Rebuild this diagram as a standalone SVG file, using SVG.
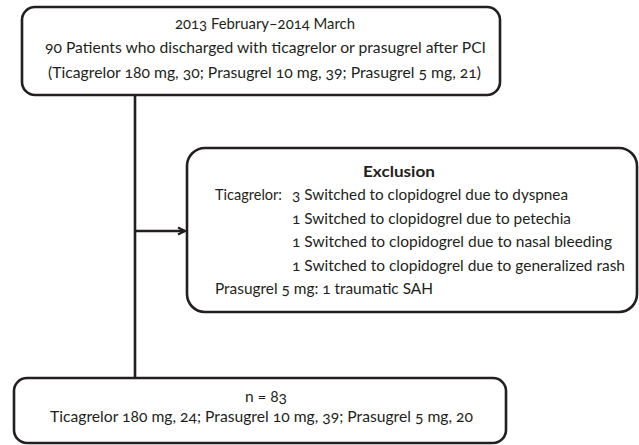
<svg xmlns="http://www.w3.org/2000/svg" width="639" height="445" viewBox="0 0 639 445">
<style>
.box{fill:#fff;stroke:#231f20;stroke-width:2.6}
.t{font-family:Lato,"Open Sans",sans-serif;font-size:16px;fill:#231f20;font-variant-numeric:oldstyle-nums}
.b{font-weight:bold}
.ln{stroke:#231f20;stroke-width:2.6;fill:none}
</style>
<defs>
<marker id="ah" viewBox="0 0 10 10" refX="9" refY="5" markerWidth="10" markerHeight="10" markerUnits="userSpaceOnUse" orient="auto">
<path d="M2,1.5 L9,5 L2,8.5" fill="none" stroke="#231f20" stroke-width="2.2"/>
</marker>
</defs>
<g id="connectors">
<line class="ln" x1="135" y1="95" x2="135" y2="378"/>
<line class="ln" x1="135" y1="231" x2="185" y2="231" marker-end="url(#ah)"/>
</g>
<g id="start">
<rect class="box" x="22" y="7" width="478" height="88" rx="13"/>
<text class="t" x="175" y="29" textLength="180" lengthAdjust="spacingAndGlyphs">2013 February–2014 March</text>
<text class="t" x="45" y="53" textLength="441" lengthAdjust="spacingAndGlyphs">90 Patients who discharged with ticagrelor or prasugrel after PCI</text>
<text class="t" x="48" y="78" textLength="433" lengthAdjust="spacingAndGlyphs">(Ticagrelor 180 mg, 30; Prasugrel 10 mg, 39; Prasugrel 5 mg, 21)</text>
</g>
<g id="exclusion">
<rect class="box" x="187" y="148" width="450" height="164" rx="18"/>
<text class="t b" x="363" y="177" textLength="72" lengthAdjust="spacingAndGlyphs">Exclusion</text>
<text class="t" x="215" y="200" textLength="67" lengthAdjust="spacingAndGlyphs">Ticagrelor:</text>
<text class="t" x="292" y="200" textLength="276" lengthAdjust="spacingAndGlyphs">3 Switched to clopidogrel due to dyspnea</text>
<text class="t" x="292" y="223.5" textLength="279" lengthAdjust="spacingAndGlyphs">1 Switched to clopidogrel due to petechia</text>
<text class="t" x="292" y="247" textLength="320" lengthAdjust="spacingAndGlyphs">1 Switched to clopidogrel due to nasal bleeding</text>
<text class="t" x="292" y="270.5" textLength="333" lengthAdjust="spacingAndGlyphs">1 Switched to clopidogrel due to generalized rash</text>
<text class="t" x="215" y="294" textLength="218" lengthAdjust="spacingAndGlyphs">Prasugrel 5 mg: 1 traumatic SAH</text>
</g>
<g id="result">
<rect class="box" x="14" y="378" width="492" height="65" rx="13"/>
<text class="t" x="245" y="402" textLength="42" lengthAdjust="spacingAndGlyphs">n = 83</text>
<text class="t" x="50" y="422" textLength="423" lengthAdjust="spacingAndGlyphs">Ticagrelor 180 mg, 24; Prasugrel 10 mg, 39; Prasugrel 5 mg, 20</text>
</g>
</svg>
